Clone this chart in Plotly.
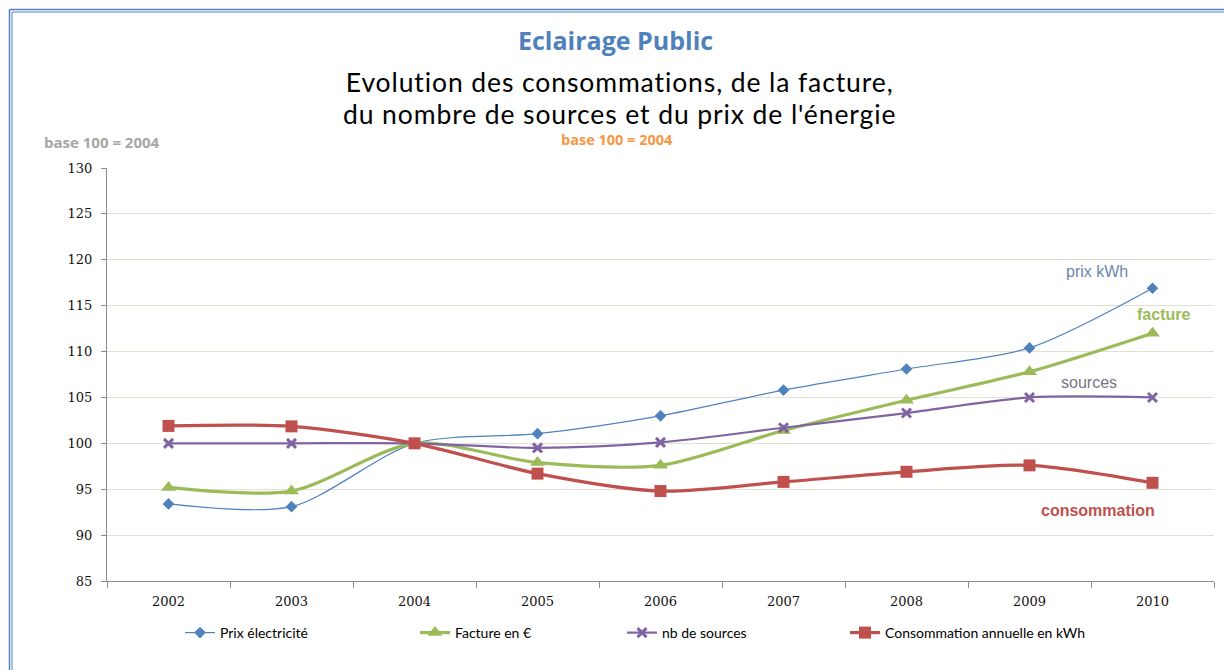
import plotly.graph_objects as go

years = ["2002", "2003", "2004", "2005", "2006", "2007", "2008", "2009", "2010"]
prix = [93.4, 93.1, 100.0, 101.05, 103.0, 105.8, 108.1, 110.4, 116.9]
facture = [95.2, 94.8, 100.0, 97.9, 97.6, 101.4, 104.7, 107.8, 112.0]
sources = [100.0, 100.0, 100.0, 99.5, 100.1, 101.7, 103.3, 105.0, 105.0]
conso = [101.9, 101.85, 100.0, 96.7, 94.8, 95.8, 96.9, 97.6, 95.7]

names = ["Prix électricité", "Facture en €", "nb de sources", "Consommation annuelle en kWh"]
y_ticks = [85, 90, 95, 100, 105, 110, 115, 120, 125, 130]

W, H = 1224, 670
L, R, T, B = 107, 1214, 168, 581


def px(x):
    return (x - L) / (R - L)


def py(y):
    return (B - y) / (B - T)


fig = go.Figure()
series = [
    (prix, names[0], "#4f81bd", 1.2, "diamond", 9, "legend"),
    (facture, names[1], "#9bbb59", 3.2, "triangle-up", 13, "legend2"),
    (sources, names[2], "#8064a2", 2.2, "x-thin-open", 9, "legend3"),
    (conso, names[3], "#c0504d", 3.2, "square", 12, "legend4"),
]
for vals, nm, col, lw, sym, ms, lg in series:
    mk = dict(symbol=sym, size=ms, color=col)
    if sym == "x-thin-open":
        mk["line"] = dict(color=col, width=3)
    fig.add_trace(go.Scatter(
        x=years, y=vals, name=nm, mode="lines+markers",
        line=dict(color=col, width=lw, shape="spline", smoothing=0.8),
        marker=mk, legend=lg,
    ))

leg_font = dict(family="Lato", size=14, color="#000000")
marker_px = [197, 432, 639, 862]
for i, key in enumerate(["legend", "legend2", "legend3", "legend4"]):
    fig.layout[key] = dict(
        x=px(marker_px[i] - 17), y=py(633), xanchor="left", yanchor="middle",
        orientation="h", font=leg_font, bgcolor="rgba(0,0,0,0)",
        borderwidth=0, itemwidth=30,
    )

grid = "#e2e0d2"
axis_col = "#8c8c8c"
tick_font = dict(family="DejaVu Serif", size=13, color="#111111")

fig.update_xaxes(
    type="category", range=[-0.5, 8.5], tickson="boundaries",
    ticks="outside", ticklen=6, tickcolor=axis_col, showline=True,
    linecolor=axis_col, linewidth=1, showgrid=False, tickfont=tick_font,
    ticklabelstandoff=8,
)
fig.update_yaxes(
    range=[85, 130], tickvals=y_ticks, ticks="outside", ticklen=5,
    tickcolor=axis_col, showline=True, linecolor=axis_col, linewidth=1,
    showgrid=True, gridcolor=grid, gridwidth=1, zeroline=False,
    tickfont=tick_font, ticklabelstandoff=6,
)

title_lines = ["Evolution des consommations, de la facture,",
               "du nombre de sources et du prix de l'énergie"]
title_html = "<br>".join(
    '<span style="font-size:26.5px;letter-spacing:0.9px">%s</span>' % t for t in title_lines)

ann = []
ann.append(dict(text="<b>Eclairage Public</b>", x=px(615), y=py(40),
                font=dict(family="Open Sans", size=25, color="#4f81bd")))
ann.append(dict(text=title_html, x=px(619), y=py(98.5),
                font=dict(family="Lato", size=24.6, color="#000000")))
ann.append(dict(text="<b>base 100 = 2004</b>", x=px(617), y=py(140),
                font=dict(family="Open Sans", size=14.5, color="#f79646")))
ann.append(dict(text="<b>base 100 = 2004</b>", x=px(102), y=py(142),
                font=dict(family="Open Sans", size=15, color="#a6a6a6")))

ann.append(dict(text="prix kWh", x=7.55, y=118.7, xref="x", yref="y",
                font=dict(family="Liberation Sans", size=16, color="#6b88b0")))
ann.append(dict(text="<b>facture</b>", x=8.09, y=114.0, xref="x", yref="y",
                font=dict(family="Liberation Sans", size=16, color="#9bbb59")))
ann.append(dict(text="sources", x=7.48, y=106.6, xref="x", yref="y",
                font=dict(family="Liberation Sans", size=16, color="#767684")))
ann.append(dict(text="<b>consommation</b>", x=7.56, y=92.7, xref="x", yref="y",
                font=dict(family="Liberation Sans", size=16, color="#c0504d")))
for a in ann:
    a.setdefault("xref", "paper")
    a.setdefault("yref", "paper")
    a["showarrow"] = False
    a["xanchor"] = "center"
    a["yanchor"] = "middle"

shapes = [
    dict(type="line", xref="paper", yref="paper", x0=px(9.5), x1=px(1224), y0=py(9.5), y1=py(9.5),
         line=dict(color="#4f81bd", width=1.5)),
    dict(type="line", xref="paper", yref="paper", x0=px(12), x1=px(1224), y0=py(12), y1=py(12),
         line=dict(color="#8faadc", width=1.5)),
    dict(type="line", xref="paper", yref="paper", x0=px(9.5), x1=px(9.5), y0=py(9.5), y1=py(670),
         line=dict(color="#4f81bd", width=1.5)),
    dict(type="line", xref="paper", yref="paper", x0=px(12), x1=px(12), y0=py(12), y1=py(670),
         line=dict(color="#8faadc", width=1.5)),
]

fig.update_layout(
    width=W, height=H, autosize=False,
    margin=dict(l=L, r=W - R, t=T, b=H - B),
    paper_bgcolor="#ffffff", plot_bgcolor="#ffffff",
    annotations=ann, shapes=shapes, showlegend=True,
)

fig.write_html("out.html", config={"displayModeBar": False},
               post_script="document.body.style.margin='0';")
